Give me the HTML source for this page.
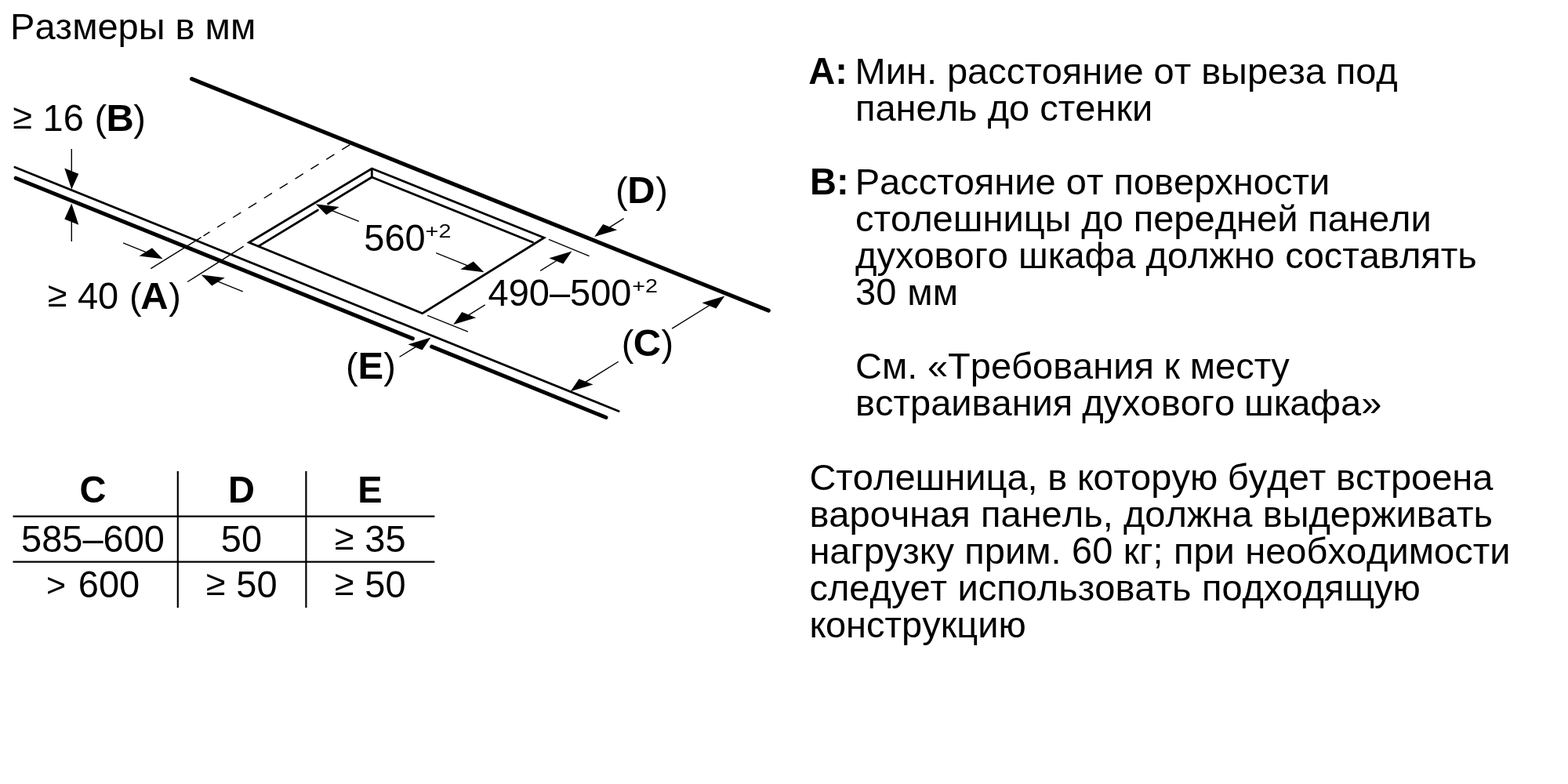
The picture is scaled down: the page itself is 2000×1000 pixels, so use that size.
<!DOCTYPE html>
<html lang="ru">
<head>
<meta charset="utf-8">
<title>Размеры в мм</title>
<style>
html,body{margin:0;padding:0;background:#fff;}
body{width:2000px;height:1000px;overflow:hidden;}
svg{display:block;will-change:transform;}
text{font-family:"Liberation Sans",Arial,Helvetica,sans-serif;fill:#000;font-kerning:none;white-space:pre;}
.t{font-size:47px;}
.b{font-weight:bold;}
.thin{stroke:#000;stroke-width:1.4;fill:none;stroke-linecap:butt;}
.med{stroke:#000;stroke-width:2.8;fill:none;stroke-linecap:butt;stroke-linejoin:miter;}
.medr{stroke:#000;stroke-width:2.8;fill:none;stroke-linecap:round;}
.tbl{stroke:#000;stroke-width:2.2;fill:none;}
.thick{stroke:#000;stroke-width:5.0;fill:none;stroke-linecap:round;}
.ah{fill:#000;stroke:none;}
</style>
</head>
<body>
<svg width="2000" height="1000" viewBox="0 0 2000 1000">
<rect x="0" y="0" width="2000" height="1000" fill="#fff"/>
<!-- title -->
<text class="t" x="13.1" y="50">Размеры в мм</text>
<!-- drawing -->
<g id="drawing">
  <line class="thick" x1="244.6" y1="100.7" x2="980.3" y2="396.1" style="stroke-width:5.2"/>
  <line class="medr" x1="18.9" y1="213.2" x2="789.2" y2="524.5"/>
  <line class="thick" x1="20.2" y1="227.2" x2="526.4" y2="431.9"/>
  <line class="thick" x1="550.6" y1="442.1" x2="773" y2="532.5"/>
  <polygon class="med" points="474.3,215 694,303.3 538.8,399.7 317.6,309.3"/>
  <line class="med" x1="474.3" y1="214.5" x2="474.3" y2="226.5"/>
  <line class="med" x1="474.3" y1="226" x2="680.6" y2="309.5"/>
  <line class="medr" x1="474.3" y1="226" x2="418.6" y2="259.93"/>
  <line class="medr" x1="405.4" y1="267.97" x2="330" y2="313.9"/>
  <line class="thin" x1="446.3" y1="184.6" x2="259.53" y2="300.86" stroke-dasharray="12 11.4"/>
  <line class="thin" x1="256.55" y1="302.71" x2="192.3" y2="342.7"/>
  <line class="thin" x1="310.7" y1="314.2" x2="239.1" y2="359.5"/>
  <line class="thin" x1="699.9" y1="305.3" x2="751.6" y2="326.6"/>
  <line class="thin" x1="545.2" y1="402.4" x2="596.9" y2="423.2"/>
</g>
<!-- dimension arrows -->
<g id="arrows">
  <line class="thin" x1="91.3" y1="189.9" x2="91.3" y2="219.1"/>
  <polygon class="ah" points="91.3,241.6 100.3,221.73 82.3,214.47"/>
  <line class="thin" x1="91.3" y1="307.9" x2="91.3" y2="282.1"/>
  <polygon class="ah" points="91.3,259.6 100.3,286.73 82.3,279.47"/>
  <line class="thin" x1="157.06" y1="309.81" x2="186.73" y2="321.78"/>
  <polygon class="ah" points="207.6,330.2 194.05,316.3 177.56,326.52"/>
  <line class="thin" x1="309.74" y1="371.9" x2="277.57" y2="358.92"/>
  <polygon class="ah" points="256.7,350.5 286.74,354.18 270.25,364.4"/>
  <line class="thin" x1="457.78" y1="282.46" x2="423.47" y2="268.62"/>
  <polygon class="ah" points="402.6,260.2 432.64,263.88 416.15,274.1"/>
  <line class="thin" x1="556.19" y1="322.6" x2="596.53" y2="338.88"/>
  <polygon class="ah" points="617.4,347.3 603.85,333.4 587.36,343.62"/>
  <line class="thin" x1="689.2" y1="345.32" x2="710.28" y2="332.26"/>
  <polygon class="ah" points="729.4,320.4 718.42,336.41 700.43,329.15"/>
  <line class="thin" x1="618.66" y1="388.92" x2="597.32" y2="402.14"/>
  <polygon class="ah" points="578.2,414 607.17,405.25 589.18,397.99"/>
  <line class="thin" x1="795.6" y1="278.71" x2="777.32" y2="290.04"/>
  <polygon class="ah" points="758.2,301.9 787.17,293.15 769.18,285.89"/>
  <line class="thin" x1="857.09" y1="419.13" x2="905.28" y2="389.26"/>
  <polygon class="ah" points="924.4,377.4 913.42,393.41 895.43,386.15"/>
  <line class="thin" x1="788.79" y1="461.26" x2="746.72" y2="487.34"/>
  <polygon class="ah" points="727.6,499.2 756.57,490.45 738.58,483.19"/>
  <line class="thin" x1="509.55" y1="455.27" x2="530.38" y2="442.36"/>
  <polygon class="ah" points="549.5,430.5 538.52,446.51 520.53,439.25"/>
</g>
<!-- dimension labels -->
<g id="labels">
  <text class="t" style="font-size:45px" x="16.57" y="164">≥</text>
  <text class="t" transform="translate(54.6 167) scale(1.0 1.04)">16</text>
  <text class="t" y="167"><tspan x="120.59">(</tspan><tspan class="b" style="font-size:48.9px" x="135.53">B</tspan><tspan x="170.26">)</tspan></text>
  <text class="t" style="font-size:45px" x="61.07" y="391">≥</text>
  <text class="t" transform="translate(98.92 394) scale(1.0 1.04)">40</text>
  <text class="t" y="394"><tspan x="165.09">(</tspan><tspan class="b" style="font-size:48.9px" x="179.28">A</tspan><tspan x="215.26">)</tspan></text>
  <text class="t" transform="translate(464.32 320) scale(1 1.04)">560<tspan x="78.28" dy="-16.35" style="font-size:23.5px" textLength="32.82" lengthAdjust="spacingAndGlyphs">+2</tspan></text>
  <text class="t" transform="translate(622.52 390) scale(1 1.04)">490–500<tspan x="183.67" dy="-16.35" style="font-size:23.5px" textLength="32.82" lengthAdjust="spacingAndGlyphs">+2</tspan></text>
  <text class="t" y="259"><tspan x="785.09">(</tspan><tspan class="b" style="font-size:48.9px" x="800.23">D</tspan><tspan x="836.26">)</tspan></text>
  <text class="t" y="454"><tspan x="792.69">(</tspan><tspan class="b" style="font-size:48.9px" x="807.79">C</tspan><tspan x="843.56">)</tspan></text>
  <text class="t" y="483"><tspan x="441.09">(</tspan><tspan class="b" style="font-size:48.9px" x="456.43">E</tspan><tspan x="489.26">)</tspan></text>
</g>
<!-- table -->
<g id="table">
  <line class="tbl" x1="16.5" y1="658.7" x2="554.4" y2="658.7"/>
  <line class="tbl" x1="16.5" y1="716.6" x2="554.4" y2="716.6"/>
  <line class="tbl" x1="226.8" y1="601" x2="226.8" y2="775.2"/>
  <line class="tbl" x1="390.4" y1="601" x2="390.4" y2="775.2"/>
  <text class="t b" text-anchor="middle" transform="translate(118.5 641) scale(1.0 1.04)">C</text>
  <text class="t b" text-anchor="middle" transform="translate(308 641) scale(1.0 1.04)">D</text>
  <text class="t b" text-anchor="middle" transform="translate(472 641) scale(1.0 1.04)">E</text>
  <text class="t" text-anchor="middle" transform="translate(118.5 704) scale(1.0 1.04)">585–600</text>
  <text class="t" text-anchor="middle" transform="translate(308 704) scale(1.0 1.04)">50</text>
  <text class="t" style="font-size:45px" x="426.9" y="701">≥</text>
  <text class="t" transform="translate(465.29 704) scale(1.0 1.04)">35</text>
  <text class="t" style="font-size:43px" x="59.08" y="761">&gt;</text>
  <text class="t" transform="translate(99.84 762) scale(1.0 1.04)">600</text>
  <text class="t" style="font-size:45px" x="262.9" y="759">≥</text>
  <text class="t" transform="translate(301.29 762) scale(1.0 1.04)">50</text>
  <text class="t" style="font-size:45px" x="426.9" y="759">≥</text>
  <text class="t" transform="translate(465.29 762) scale(1.0 1.04)">50</text>
</g>
<!-- legend -->
<g id="legend">
  <text class="t b" transform="translate(1031.3 107) scale(1.0 1.04)">A:</text>
  <text class="t b" transform="translate(1033 248) scale(1.0 1.04)">B:</text>
  <text class="t" style="word-spacing:-0.15px" x="1090.6" y="107">Мин. расстояние от выреза под</text>
  <text class="t" x="1091" y="154">панель до стенки</text>
  <text class="t" style="word-spacing:0.05px" x="1090.7" y="248">Расстояние от поверхности</text>
  <text class="t" style="word-spacing:-0.13px" x="1091" y="295">столешницы до передней панели</text>
  <text class="t" style="word-spacing:0.1px" x="1091" y="342">духового шкафа должно составлять</text>
  <text class="t" transform="translate(1091 389) scale(1.0 1.04)">30</text>
  <text class="t" x="1157.34" y="389">мм</text>
  <text class="t" style="word-spacing:-0.4px" x="1091" y="483">См. «Требования к месту</text>
  <text class="t" style="word-spacing:-1.2px" x="1091" y="530">встраивания духового шкафа»</text>
  <text class="t" style="word-spacing:-0.4px" x="1032.4" y="625">Столешница, в которую будет встроена</text>
  <text class="t" style="word-spacing:0.17px" x="1032.4" y="672">варочная панель, должна выдерживать</text>
  <text class="t" style="word-spacing:0.4px" x="1032.4" y="719">нагрузку прим.</text>
  <text class="t" transform="translate(1367.02 719) scale(1.0 1.04)">60</text>
  <text class="t" style="word-spacing:0.4px" x="1432.76" y="719">кг; при необходимости</text>
  <text class="t" style="word-spacing:0.35px" x="1032.4" y="766">следует использовать подходящую</text>
  <text class="t" x="1032.4" y="813">конструкцию</text>
</g>
</svg>
</body>
</html>
